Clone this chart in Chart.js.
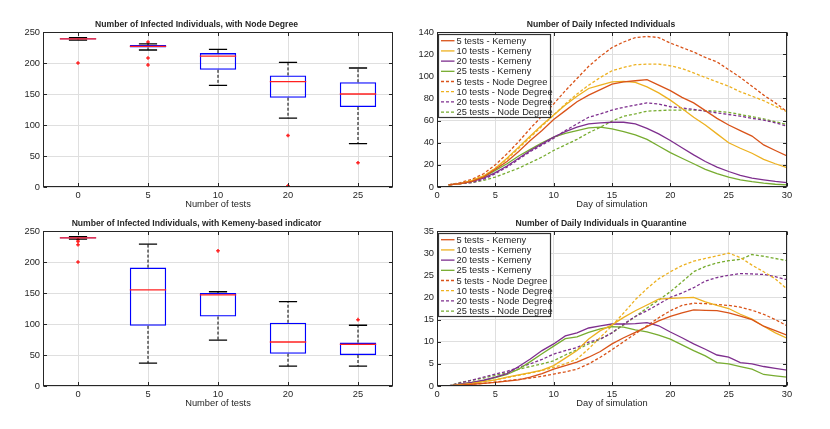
<!DOCTYPE html>
<html>
<head>
<meta charset="utf-8">
<script src="https://cdn.jsdelivr.net/npm/chart.js@4/dist/chart.umd.min.js"></script>
<style>
  body { margin: 0; background: #fff; width: 830px; height: 429px; position: relative; overflow: hidden; }
  canvas { position: absolute; }
</style>
</head>
<body>
<canvas id="ndBox" width="415" height="215" style="left:0;top:0"></canvas>
<canvas id="kmBox" width="415" height="215" style="left:0;top:199px"></canvas>
<canvas id="infected" width="415" height="215" style="left:415px;top:0"></canvas>
<canvas id="quarantine" width="415" height="215" style="left:415px;top:199px"></canvas>
<script>
// categories of the box plots
const tests = ['0', '5', '10', '20', '25'];

// Node Degree box plot
const ndQ1 = [238, 225, 189, 144, 129];
const ndQ3 = [240, 229, 216, 180, 169];
const ndMedian = [239, 227, 211, 170, 150];
const ndLow = [237, 221, 164, 111, 70];
const ndHigh = [241, 231, 222, 201, 192];
const ndOutliers = [['0', 200], ['5', 234], ['5', 208], ['5', 197], ['20', 83], ['20', 2], ['25', 39]];

// Kemeny box plot
const kmQ1 = [238, 97, 112, 52, 50];
const kmQ3 = [240, 191, 150, 102, 70];
const kmMedian = [239, 155, 147, 71, 67];
const kmLow = [237, 37, 74, 32, 32];
const kmHigh = [241, 229, 152, 136, 98];
const kmOutliers = [['0', 236], ['0', 233], ['0', 228], ['0', 200], ['10', 218], ['25', 107]];

// line charts
const days = [1, 2, 3, 4, 5, 6, 7, 8, 9, 10, 11, 12, 13, 14, 15, 16, 17, 18, 19, 20, 21, 22, 23, 24, 25, 26, 27, 28, 29, 30];
const seriesNames = ['5 tests - Kemeny', '10 tests - Kemeny', '20 tests - Kemeny', '25 tests - Kemeny',
  '5 tests - Node Degree', '10 tests - Node Degree', '20 tests - Node Degree', '25 tests - Node Degree'];

const inf5K = [2, 3, 5, 9, 16, 23, 32, 42, 51, 61, 69, 77, 83, 88, 93, 95, 96, 97, 92, 87, 81, 76, 69, 62, 56, 51, 46, 38, 33, 28];
const inf10K = [2, 3, 6, 10, 17, 26, 36, 46, 56, 65, 74, 82, 89, 92, 95, 95.5, 94.5, 90.5, 85, 78.5, 71, 63, 56, 48, 40, 35, 30.5, 25, 21, 17.5];
const inf20K = [2, 3, 5, 8, 13, 19, 26, 33, 39, 45, 50, 54, 57, 58, 58.5, 58.5, 57, 53, 48, 42, 35.5, 29, 23, 18, 14, 10.5, 8, 6.5, 5, 4];
const inf25K = [2, 3, 5, 9, 15, 21, 28, 34, 40, 45, 48.5, 51, 53.5, 54, 52.5, 50, 47, 43, 37, 31, 26, 21, 16, 12, 9, 6.5, 4.8, 3.5, 2.5, 2];
const inf5N = [2, 4, 7, 12, 20, 30, 41, 53, 64, 75, 87, 98, 109, 118, 126, 131, 135, 136, 135, 130, 126, 122, 117, 113, 106, 99, 91, 83, 76, 68];
const inf10N = [2, 3, 6, 10, 17, 25, 35, 45, 55, 65, 75, 84, 92, 99, 105, 108, 110.5, 111, 111, 109.5, 107, 103, 99, 95, 91, 86, 82, 78, 73, 68];
const inf20N = [2, 3, 4, 7, 12, 18, 25, 32, 38, 44, 51, 57, 63, 66, 69.5, 72, 74, 76, 75, 72.5, 71.5, 70, 68.5, 67, 65.5, 64, 62, 60.5, 58, 55];
const inf25N = [2, 3, 4, 6, 9, 13, 17, 22, 27, 33, 38, 43, 49, 54, 59.5, 64, 66, 68.5, 69, 69.5, 69.5, 69.5, 69, 68.5, 67.5, 65.5, 63.5, 61.5, 59, 56.5];

const qua5K = [0, 0.2, 0.4, 0.6, 0.8, 1.1, 1.4, 2.0, 2.8, 3.8, 4.6, 5.4, 6.5, 7.8, 9.5, 10.9, 12.1, 13.4, 14.7, 15.7, 16.5, 17.2, 17.1, 17.0, 16.5, 15.8, 15.0, 13.5, 12.5, 11.5];
const qua10K = [0, 0.3, 0.6, 1.0, 1.4, 2.0, 2.5, 3.0, 3.6, 4.6, 6.3, 8.0, 10.6, 12.5, 13.8, 15.5, 17.0, 18.3, 19.6, 19.8, 19.9, 20.0, 19.0, 18.2, 17.5, 16.2, 15.1, 13.5, 12.0, 10.8];
const qua20K = [0, 0.4, 0.8, 1.3, 2.0, 2.8, 4.4, 6.1, 8.0, 9.5, 11.3, 12.0, 13.1, 13.6, 14.0, 14.0, 14.1, 14.3, 13.6, 12.2, 10.9, 9.5, 8.3, 7.0, 6.5, 5.3, 5.0, 4.4, 4.0, 3.6];
const qua25K = [0, 0.4, 0.8, 1.2, 1.9, 2.6, 3.8, 5.5, 7.3, 9.0, 10.7, 11.1, 12.1, 12.9, 13.4, 13.3, 12.7, 12.2, 11.5, 10.6, 9.3, 8.0, 6.8, 5.3, 5.0, 4.4, 3.8, 2.6, 2.3, 2.0];
const qua5N = [0, 0.2, 0.4, 0.6, 0.9, 1.2, 1.5, 1.8, 2.2, 2.7, 3.2, 3.8, 5.0, 6.5, 8.2, 10.0, 11.8, 13.6, 15.4, 17.0, 18.2, 18.7, 18.6, 18.4, 18.2, 17.8, 17.1, 16.2, 15.0, 13.6];
const qua10N = [0, 0.3, 0.7, 1.0, 1.4, 1.9, 2.4, 2.9, 3.5, 4.2, 5.0, 6.1, 8.4, 11.0, 13.6, 16.5, 19.5, 22.0, 24.2, 25.8, 27.2, 28.2, 28.8, 29.4, 30.0, 29.0, 27.3, 25.8, 24.2, 21.9];
const qua20N = [0, 0.7, 1.3, 2.0, 2.7, 3.3, 4.2, 5.0, 6.0, 7.2, 8.0, 8.7, 9.9, 10.6, 12.0, 14.0, 15.7, 17.0, 18.5, 20.0, 21.0, 22.2, 23.7, 24.5, 25.0, 25.4, 25.3, 25.2, 24.7, 24.0];
const qua25N = [0, 0.8, 1.3, 1.8, 2.4, 3.0, 3.8, 4.4, 5.0, 5.7, 7.0, 8.2, 9.5, 10.6, 12.0, 13.8, 15.7, 17.6, 19.4, 21.3, 23.5, 25.8, 27.0, 27.8, 28.3, 28.6, 29.7, 29.3, 28.8, 28.3];

const colors = ['#D95319', '#EDB120', '#7E2F8E', '#77AC30'];
const AXIS = '#262626';
const GRID = '#dfdfdf';
const FAMILY = '"Liberation Sans", Arial, sans-serif';

Chart.defaults.font.family = FAMILY;
Chart.defaults.font.size = 9.3;
Chart.defaults.font.weight = 'normal';
Chart.defaults.color = AXIS;

const titleFont = { size: 8.6, weight: 'bold' };

// box outline, inward tick marks and the boxed legend
const decor = {
  id: 'decor',
  afterDraw(chart) {
    const ctx = chart.ctx, a = chart.chartArea;
    const L = Math.round(a.left) + 0.5, R = Math.round(a.right) - 0.5;
    const T = Math.round(a.top) + 0.5, B = Math.round(a.bottom) - 0.5;
    ctx.save();
    ctx.strokeStyle = AXIS;
    ctx.lineWidth = 1;
    ctx.strokeRect(L, T, R - L, B - T);
    ctx.beginPath();
    const xs = chart.scales.x, ys = chart.scales.y;
    xs.ticks.forEach((t, i) => {
      const px = Math.round(xs.getPixelForTick(i)) + 0.5;
      ctx.moveTo(px, B); ctx.lineTo(px, B - 3.5);
      ctx.moveTo(px, T); ctx.lineTo(px, T + 3.5);
    });
    ys.ticks.forEach((t, i) => {
      const py = Math.round(ys.getPixelForTick(i)) + 0.5;
      ctx.moveTo(L, py); ctx.lineTo(L + 3.5, py);
      ctx.moveTo(R, py); ctx.lineTo(R - 3.5, py);
    });
    ctx.stroke();

    const opts = chart.options.plugins.decor || {};
    if (opts.legend) {
      const x0 = Math.round(a.left) + 1.5, y0 = Math.round(a.top) + 2.5, w = 112, h = 83;
      ctx.fillStyle = '#fff';
      ctx.fillRect(x0, y0, w, h);
      ctx.strokeStyle = '#333';
      ctx.lineWidth = 1.2;
      ctx.strokeRect(x0, y0, w, h);
      ctx.font = '9.3px ' + FAMILY;
      ctx.textBaseline = 'middle';
      chart.data.datasets.forEach((ds, i) => {
        const y = a.top + 8.7 + i * 10.2;
        ctx.strokeStyle = ds.borderColor;
        ctx.lineWidth = ds.borderWidth;
        ctx.setLineDash(ds.borderDash || []);
        ctx.beginPath();
        ctx.moveTo(x0 + 2.5, y); ctx.lineTo(x0 + 16, y);
        ctx.stroke();
        ctx.setLineDash([]);
        ctx.fillStyle = AXIS;
        ctx.fillText(ds.label, x0 + 18, y + 0.5);
      });
    }
    ctx.restore();
  }
};

// whiskers, caps and medians on top of the floating bars
const boxExtras = {
  id: 'boxExtras',
  afterDatasetsDraw(chart) {
    const o = chart.options.plugins.boxExtras;
    if (!o) return;
    const ctx = chart.ctx, xs = chart.scales.x, ys = chart.scales.y;
    const bars = chart.getDatasetMeta(0).data;
    ctx.save();
    o.median.forEach((m, i) => {
      const cx = xs.getPixelForValue(i);
      const w = bars[i].width;
      const yq1 = ys.getPixelForValue(o.q1[i]), yq3 = ys.getPixelForValue(o.q3[i]);
      const yLo = ys.getPixelForValue(o.low[i]), yHi = ys.getPixelForValue(o.high[i]);
      ctx.strokeStyle = '#000';
      ctx.lineWidth = 1;
      ctx.setLineDash([3, 2]);
      ctx.beginPath();
      ctx.moveTo(cx, yq3); ctx.lineTo(cx, yHi);
      ctx.moveTo(cx, yq1); ctx.lineTo(cx, yLo);
      ctx.stroke();
      ctx.setLineDash([]);
      ctx.lineWidth = 1.3;
      ctx.beginPath();
      ctx.moveTo(cx - w / 4, yHi); ctx.lineTo(cx + w / 4, yHi);
      ctx.moveTo(cx - w / 4, yLo); ctx.lineTo(cx + w / 4, yLo);
      ctx.stroke();
      ctx.strokeStyle = '#ff2020';
      ctx.beginPath();
      const ym = ys.getPixelForValue(m);
      ctx.moveTo(cx - w / 2, ym); ctx.lineTo(cx + w / 2, ym);
      ctx.stroke();
    });
    ctx.restore();
  }
};

function boxChart(id, title, q1, q3, median, low, high, outliers) {
  new Chart(document.getElementById(id), {
    type: 'bar',
    data: {
      labels: tests,
      datasets: [{
        data: q1.map((v, i) => [v, q3[i]]),
        backgroundColor: 'rgba(0,0,0,0)',
        borderColor: '#0000ff',
        borderWidth: 1.3,
        borderSkipped: false,
        barPercentage: 0.52,
        categoryPercentage: 1
      }, {
        type: 'scatter',
        data: outliers.map(p => ({ x: p[0], y: p[1] })),
        pointStyle: 'cross',
        pointRadius: 1.8,
        borderWidth: 1.5,
        borderColor: '#ff2020',
        backgroundColor: '#ff2020'
      }]
    },
    options: {
      responsive: false,
      animation: false,
      devicePixelRatio: 1,
      layout: { padding: { left: 0, right: 22, top: 0, bottom: 4 } },
      scales: {
        x: {
          grid: { offset: false, color: GRID, drawTicks: false },
          border: { display: false },
          ticks: { padding: 3 },
          title: { display: true, text: 'Number of tests', padding: { top: 0, bottom: 1 } },
          afterFit: s => { s.height = 24; }
        },
        y: {
          min: 0, max: 250,
          ticks: { stepSize: 50, padding: 3 },
          grid: { color: GRID, drawTicks: false },
          border: { display: false },
          afterFit: s => { s.width = 43; }
        }
      },
      plugins: {
        legend: { display: false },
        tooltip: { enabled: false },
        title: { display: true, text: title, font: titleFont, padding: { top: 19.8, bottom: 1.9 } },
        boxExtras: { q1, q3, median, low, high }
      }
    },
    plugins: [boxExtras, decor]
  });
}

function lineChart(id, title, series, yMax, yStep) {
  new Chart(document.getElementById(id), {
    type: 'line',
    data: {
      datasets: series.map((vals, k) => ({
        label: seriesNames[k],
        data: days.map((d, i) => ({ x: d, y: vals[i] })),
        borderColor: colors[k % 4],
        borderWidth: 1.3,
        borderDash: k < 4 ? [] : [3, 2],
        pointRadius: 0,
        tension: 0,
        fill: false
      }))
    },
    options: {
      responsive: false,
      animation: false,
      devicePixelRatio: 1,
      layout: { padding: { left: 0, right: 43, top: 0, bottom: 4 } },
      scales: {
        x: {
          type: 'linear', min: 0, max: 30,
          ticks: { stepSize: 5, padding: 3 },
          grid: { color: GRID, drawTicks: false },
          border: { display: false },
          title: { display: true, text: 'Day of simulation', padding: { top: 0, bottom: 1 } },
          afterFit: s => { s.height = 24; }
        },
        y: {
          min: 0, max: yMax,
          ticks: { stepSize: yStep, padding: 3 },
          grid: { color: GRID, drawTicks: false },
          border: { display: false },
          afterFit: s => { s.width = 22; }
        }
      },
      plugins: {
        legend: { display: false },
        tooltip: { enabled: false },
        title: { display: true, text: title, font: titleFont, padding: { top: 19.8, bottom: 1.9 } },
        decor: { legend: true }
      }
    },
    plugins: [decor]
  });
}

boxChart('ndBox', 'Number of Infected Individuals, with Node Degree', ndQ1, ndQ3, ndMedian, ndLow, ndHigh, ndOutliers);
boxChart('kmBox', 'Number of Infected Individuals, with Kemeny-based indicator', kmQ1, kmQ3, kmMedian, kmLow, kmHigh, kmOutliers);
lineChart('infected', 'Number of Daily Infected Individuals',
  [inf5K, inf10K, inf20K, inf25K, inf5N, inf10N, inf20N, inf25N], 140, 20);
lineChart('quarantine', 'Number of Daily Individuals in Quarantine',
  [qua5K, qua10K, qua20K, qua25K, qua5N, qua10N, qua20N, qua25N], 35, 5);
</script>
</body>
</html>
